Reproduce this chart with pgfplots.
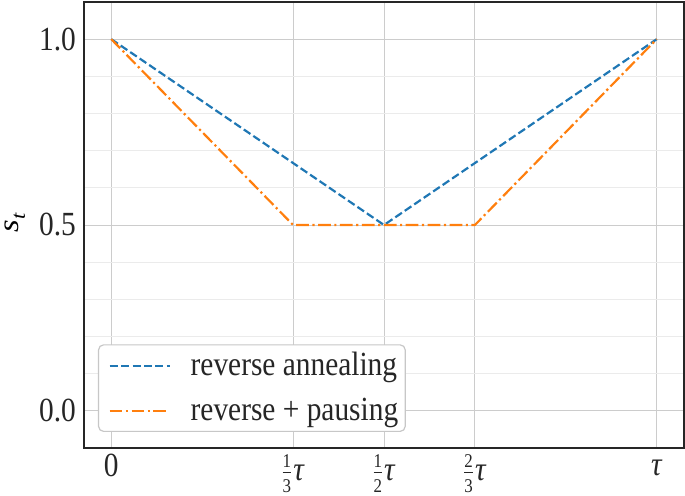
\RequirePackage{fix-cm}
\documentclass[border=0pt]{standalone}
\usepackage{fontspec}
\setmainfont{Liberation Serif}
\usepackage{graphicx}
\usepackage{pgfplots}
\pgfplotsset{compat=1.18}
\definecolor{mblue}{HTML}{1F77B4}
\definecolor{morange}{HTML}{FF7F0E}
\definecolor{framec}{HTML}{262626}
\newcommand{\vs}[1]{\scalebox{1}[1.15]{#1}}
\newcommand{\fd}[1]{\mbox{\fontsize{17}{17}\selectfont #1}}
\newcommand{\tauf}[2]{\vs{$\frac{\fd{#1}}{\fd{#2}}$\kern1pt\textit{τ}}}
\newcommand{\tl}[1]{\rule{0pt}{21bp}\vs{#1}}
\begin{document}
\fontsize{29.5}{34}\selectfont
\begin{tikzpicture}
\begin{axis}[
  name=ax,
  scale only axis,
  width=600bp, height=446bp,
  xmin=-0.05, xmax=1.05,
  ymin=-0.1, ymax=1.1,
  xtick={0,0.333333,0.5,0.666667,1},
  xticklabels={\tl{0},\tauf{1}{3},\tauf{1}{2},\tauf{2}{3},\tl{\textit{τ}}},
  ytick={0,0.5,1},
  yticklabels={\vs{0.0},\vs{0.5},\vs{1.0}},
  minor ytick={-0.1,0.1,0.2,0.3,0.4,0.6,0.7,0.8,0.9,1.1},
  major tick length=0pt, minor tick length=0pt,
  grid=both,
  major grid style={color=black!20, line width=1pt},
  minor grid style={color=black!8, line width=0.8pt},
  axis line style={color=framec, line width=1.6pt},
  tick label style={font=\fontsize{29.5}{34}\selectfont, color=black!85},
  yticklabel style={anchor=east, inner sep=0pt, xshift=-8bp},
  xticklabel style={anchor=north, inner sep=0pt, yshift=-6bp},
  ylabel={\scalebox{1.12}[1]{\textit{s}\raisebox{-0.22em}{\fontsize{20}{20}\selectfont\textit{t}}}},
  ylabel style={font=\fontsize{29}{34}\selectfont, at={(axis description cs:-0.115,0.505)}, anchor=center},
  legend style={at={(axis description cs:0.0233,0.0359)}, anchor=south west, draw=black!22, line width=1.2pt, rounded corners=5pt,
    font=\fontsize{29.5}{34}\selectfont, row sep=14pt, inner sep=5pt, text=black!85},
  legend cell align=left,
  legend image code/.code={\path (0bp,0bp); \draw[#1] (5bp,0bp) -- (65bp,0bp);},
]
\addplot[color=mblue, line width=2.2pt, dash pattern=on 8pt off 3.5pt] coordinates {(0,1) (0.5,0.5) (1,1)};
\addlegendentry{\hspace{18pt}\vs{reverse annealing}}
\addplot[color=morange, line width=2.2pt, dash pattern=on 12.8pt off 3.5pt on 2.2pt off 3.5pt] coordinates {(0,1) (0.333333,0.5) (0.666667,0.5) (1,1)};
\addlegendentry{\hspace{18pt}\vs{reverse + pausing}}
\end{axis}
\pgfresetboundingbox
\path[use as bounding box] ([shift={(-84bp,-48bp)}]ax.south west) rectangle ([shift={(1bp,2bp)}]ax.north east);
\end{tikzpicture}
\end{document}
